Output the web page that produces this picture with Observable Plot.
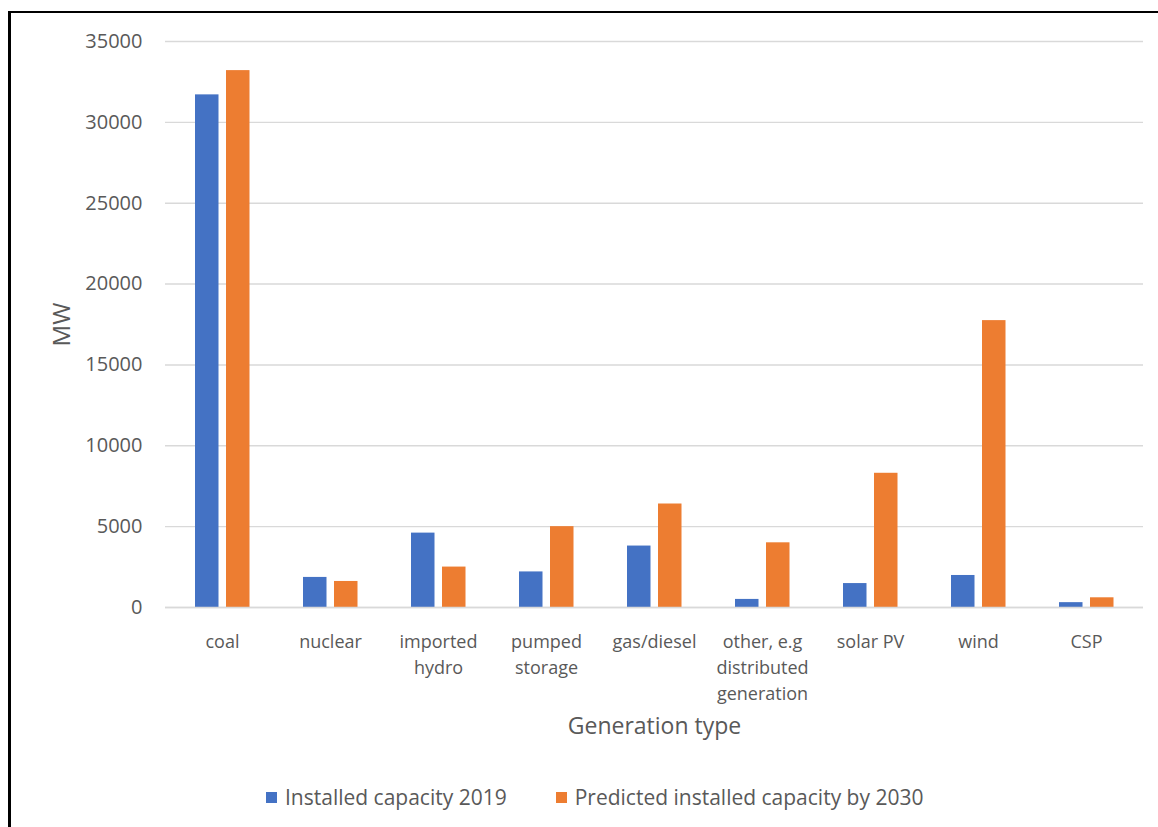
<!DOCTYPE html>
<html>
<head>
<meta charset="utf-8">
<script src="https://cdn.jsdelivr.net/npm/d3@7"></script>
<script src="https://cdn.jsdelivr.net/npm/@observablehq/plot@0.6"></script>
<style>
html, body { margin: 0; padding: 0; background: #fff; overflow: hidden; }
body { width: 1158px; height: 827px; position: relative; font-family: "Open Sans", sans-serif; }
#frame { position: absolute; left: 8px; top: 11px; width: 1300px; height: 1000px; border-left: 3px solid #000; border-top: 2.5px solid #000; box-sizing: border-box; }
#chart { position: absolute; left: 0; top: 0; }
#legend { position: absolute; left: 266px; top: 785px; display: flex; align-items: center; font-size: 21px; color: #595959; line-height: 24px; white-space: nowrap; }
#legend .sw { width: 11px; height: 11px; display: inline-block; margin-right: 8px; }
#legend .item { display: flex; align-items: center; }
</style>
</head>
<body>
<div id="frame"></div>
<div id="chart"></div>
<div id="legend"></div>
<script>
const categories = ["coal", "nuclear", "imported hydro", "pumped storage", "gas/diesel", "other, e.g distributed generation", "solar PV", "wind", "CSP"];
const tickLabels = ["coal", "nuclear", "imported\nhydro", "pumped\nstorage", "gas/diesel", "other, e.g\ndistributed\ngeneration", "solar PV", "wind", "CSP"];
const seriesNames = ["Installed capacity 2019", "Predicted installed capacity by 2030"];
const seriesColors = ["#4472C4", "#ED7D31"];
const values2019 = [31700, 1860, 4600, 2200, 3800, 500, 1480, 1980, 300];
const values2030 = [33200, 1610, 2500, 5000, 6400, 4000, 8300, 17740, 600];
const yTicks = [0, 5000, 10000, 15000, 20000, 25000, 30000, 35000];
const yTitle = "MW";
const xTitle = "Generation type";

const rows2019 = categories.map((c, i) => ({category: c, series: seriesNames[0], value: values2019[i]}));
const rows2030 = categories.map((c, i) => ({category: c, series: seriesNames[1], value: values2030[i]}));

const chart = Plot.plot({
  width: 1158,
  height: 760,
  marginLeft: 165,
  marginRight: 15,
  marginTop: 41,
  marginBottom: 153,
  style: {fontFamily: '"Open Sans", sans-serif', color: "#595959", background: "transparent", overflow: "visible"},
  x: {domain: categories, padding: 0, label: null},
  y: {domain: [0, 35000], label: null},
  marks: [
    Plot.gridY(yTicks, {stroke: "#d9d9d9", strokeOpacity: 1, strokeWidth: 1.4}),
    Plot.barY(rows2019, {x: "category", y: "value", fill: seriesColors[0], insetLeft: 27, insetRight: 57.5}),
    Plot.barY(rows2030, {x: "category", y: "value", fill: seriesColors[1], insetLeft: 58, insetRight: 26.5}),
    Plot.ruleY([0], {stroke: "#d9d9d9", strokeWidth: 1.4}),
    Plot.axisY({ticks: yTicks, tickFormat: d => String(d), tickSize: 0, tickPadding: 23, fontSize: 20, label: null}),
    Plot.text([yTitle], {text: d => d, frameAnchor: "left", textAnchor: "middle", rotate: -90, lineAnchor: "top", dx: -113, fontSize: 24, fill: "#595959"}),
    Plot.axisX({tickSize: 0, tickPadding: 22, fontSize: 18, lineHeight: 1.44, tickFormat: d => tickLabels[categories.indexOf(d)], label: null}),
    Plot.axisX({ticks: [], label: xTitle, labelAnchor: "center", labelOffset: 126, fontSize: 23})
  ]
});
document.getElementById("chart").appendChild(chart);

const legend = document.getElementById("legend");
seriesNames.forEach((name, i) => {
  const item = document.createElement("div");
  item.className = "item";
  if (i > 0) item.style.marginLeft = "49px";
  const sw = document.createElement("span");
  sw.className = "sw";
  sw.style.background = seriesColors[i];
  const t = document.createElement("span");
  t.textContent = name;
  item.appendChild(sw);
  item.appendChild(t);
  legend.appendChild(item);
});
</script>
</body>
</html>
